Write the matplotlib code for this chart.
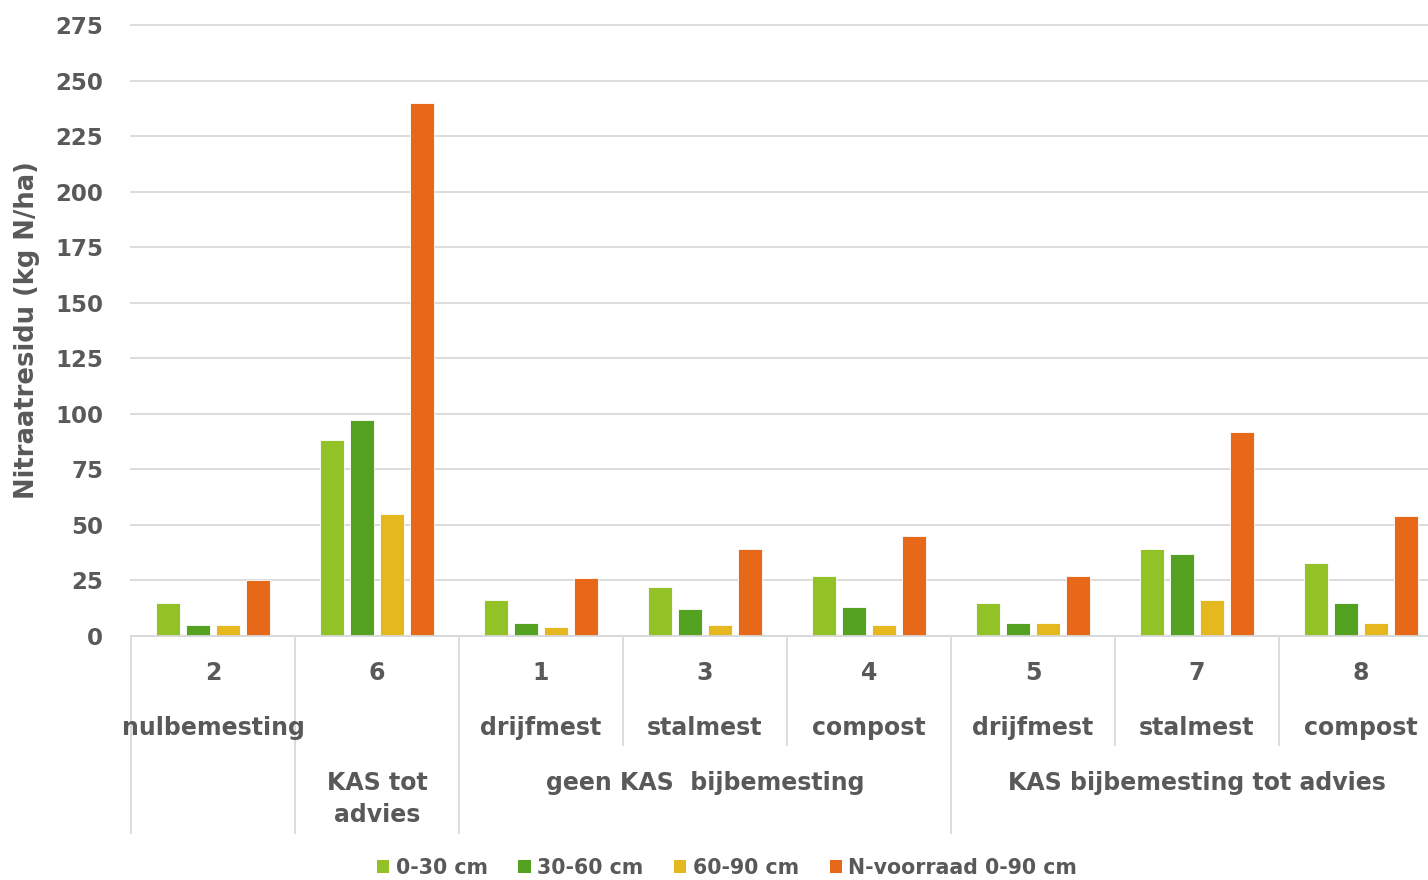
import matplotlib
matplotlib.use("Agg")
import matplotlib.pyplot as plt
import matplotlib.transforms as mtransforms
from matplotlib.lines import Line2D
from matplotlib.patches import Patch
import numpy as np

# object numbers, treatment and fertilisation group per bar cluster
plots = ["2", "6", "1", "3", "4", "5", "7", "8"]
manure = ["nulbemesting", "", "drijfmest", "stalmest", "compost",
          "drijfmest", "stalmest", "compost"]
groups = ["", "KAS tot\nadvies", "geen KAS  bijbemesting", "geen KAS  bijbemesting",
          "geen KAS  bijbemesting", "KAS bijbemesting tot advies",
          "KAS bijbemesting tot advies", "KAS bijbemesting tot advies"]

layers = ["0-30 cm", "30-60 cm", "60-90 cm", "N-voorraad 0-90 cm"]
n_0_30 = [15, 88, 16, 22, 27, 15, 39, 33]
n_30_60 = [5, 97, 6, 12, 13, 6, 37, 15]
n_60_90 = [5, 55, 4, 5, 5, 6, 16, 6]
n_total = [25, 240, 26, 39, 45, 27, 92, 54]
series = [n_0_30, n_30_60, n_60_90, n_total]
colors = ["#92C226", "#54A122", "#E4B81E", "#E8681A"]

TXT = "#595959"
GRID = "#D9D9D9"
W, H = 1428, 880

plt.rcParams.update({"font.family": "DejaVu Sans", "font.weight": "bold"})
fig = plt.figure(figsize=(W / 100, H / 100), dpi=100)
# plot area runs past the right edge of the figure
ax = fig.add_axes([131 / W, 1 - 636 / H, 1312 / W, 611 / H])

x = np.arange(len(plots))
step, width = 0.183, 0.142
for j, (vals, c) in enumerate(zip(series, colors)):
    ax.bar(x + (j - 1.5) * step, vals, width, color=c,
           edgecolor="white", linewidth=0.6, zorder=3)

ax.set_xlim(-0.5, len(plots) - 0.5)
ax.set_ylim(0, 275)
ax.set_yticks(np.arange(0, 276, 25))
ax.set_xticks([])
ax.tick_params(axis="y", length=0, pad=20, labelsize=16.5, labelcolor=TXT)
for lab in ax.get_yticklabels():
    lab.set_fontweight("bold")
ax.grid(axis="y", color=GRID, linewidth=1.3, zorder=0)
for gl in ax.yaxis.get_gridlines():
    gl.set_clip_on(False)
for s in ("left", "right", "top"):
    ax.spines[s].set_visible(False)
ax.spines["bottom"].set_color(GRID)
ax.spines["bottom"].set_linewidth(1.3)
ax.spines["bottom"].set_zorder(4)

fig.text(27 / W, 1 - 330 / H, "Nitraatresidu (kg N/ha)", rotation=90,
         ha="center", va="center", fontsize=18.6, color=TXT)

# multi-level category axis
tr = mtransforms.blended_transform_factory(ax.transData, fig.transFigure)


def fy(py):
    return 1 - py / H


for i in range(len(plots)):
    ax.text(i, fy(673), plots[i], transform=tr, ha="center", va="center",
            fontsize=17, color=TXT)
    if manure[i]:
        ax.text(i, fy(728), manure[i], transform=tr, ha="center", va="center",
                fontsize=17, color=TXT)

# group labels centred over their span of categories
i = 0
while i < len(groups):
    k = i
    while k + 1 < len(groups) and groups[k + 1] == groups[i]:
        k += 1
    if groups[i]:
        ax.text((i + k) / 2, fy(771), groups[i], transform=tr, ha="center",
                va="top", fontsize=17, color=TXT, linespacing=1.4)
    i = k + 1

# separator lines: long where the group changes, short otherwise
for b in range(len(plots) + 1):
    xb = b - 0.5
    if b in (0, len(plots)) or groups[b] != groups[b - 1]:
        y_end = 833
    else:
        y_end = 745
    ax.add_line(Line2D([xb, xb], [fy(636), fy(y_end)], transform=tr,
                       color=GRID, linewidth=1.3, clip_on=False))

handles = [Patch(facecolor=c, edgecolor="none") for c in colors]
fig.legend(handles, layers, loc="center", bbox_to_anchor=(727 / W, fy(868)),
           ncol=4, frameon=False, fontsize=14.8, labelcolor=TXT,
           handlelength=0.6, handleheight=0.6, handletextpad=0.3,
           columnspacing=1.5)

fig.savefig("out.png", dpi=100)
